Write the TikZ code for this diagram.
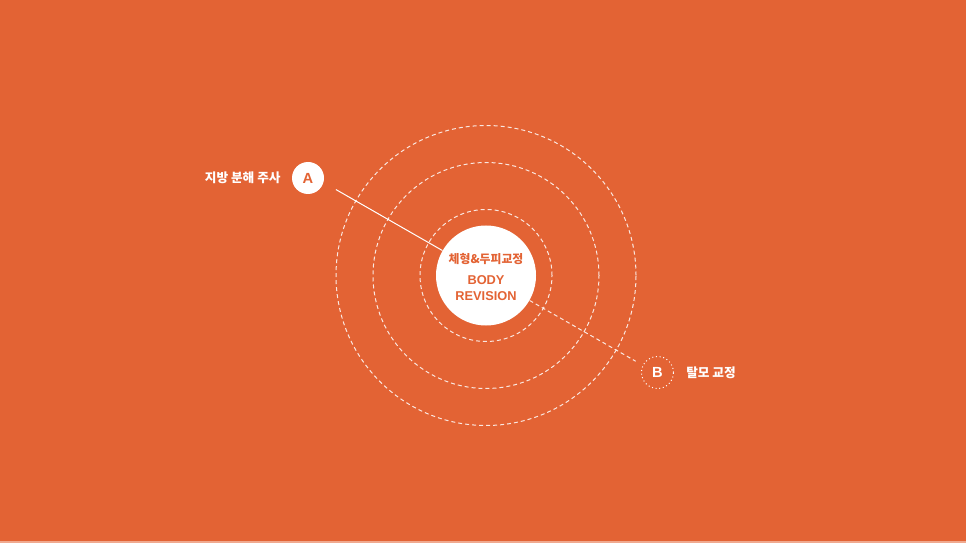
\documentclass[tikz,border=0pt]{standalone}
\usepackage{fontspec}
\setmainfont{Noto Sans CJK KR}
\setsansfont{Liberation Sans}
\usepackage{xcolor}
\usepackage{tikz}
\usetikzlibrary{
    positioning,
    calc
}
\definecolor{bgorange}{HTML}{E36334}

\begin{document}
\begin{tikzpicture}[x=0.75pt, y=0.75pt,
    font=\fontsize{9.5}{11}\selectfont,
    ring/.style={
        draw=white,
        dash pattern=on 3pt off 2.25pt,
        line width=0.75pt,
        draw opacity=0.85
    },
    core/.style={
        circle,
        fill=white,
        minimum size=75pt,
        inner sep=0pt
    },
    coretext/.style={
        text=bgorange,
        align=center,
        inner sep=0pt
    },
    badge/.style={
        circle,
        minimum size=24pt,
        inner sep=0pt,
        line width=0.75pt,
        font=\sffamily\bfseries\fontsize{11}{12}\selectfont
    },
    tag/.style={
        text=white,
        inner sep=0pt,
        font=\bfseries\fontsize{9.5}{11}\selectfont
    },
    link/.style={draw=white, line width=0.75pt},
    dashedlink/.style={draw=white, line width=0.75pt, dash pattern=on 3pt off 2.25pt, draw opacity=0.85}
]

% ===== Background =====
\fill[bgorange] (0,0) rectangle (966,543);
\fill[bgorange!55!white] (0,0) rectangle (966,2);

% ===== Core and rings =====
\node[core] (body) at (486,267.5) {};
\foreach \r in {66,113,150}
    \draw[ring] (body.center) circle[radius=\r];

\node[coretext, font=\bfseries\fontsize{8.9}{10}\selectfont] (bodykr) at ($(body.center)+(0,16.5)$) {체형\&두피교정};
\node[coretext, font=\sffamily\bfseries\fontsize{9.6}{12}\selectfont] (bodyen) at ($(body.center)+(0,-12.5)$) {BODY\\REVISION};

% ===== Badges =====
\node[badge, fill=white, text=bgorange] (a) at (308,365) {A};
\node[badge, draw=white, dotted, text=white] (b) at (657.5,170.5) {B};

\node[tag, left=8pt of a] (alabel) {지방 분해 주사};
\node[tag, right=9pt of b] (blabel) {탈모 교정};

% ===== Connectors =====
\coordinate (astart) at ($(body.center)+(150.2:173)$);
\coordinate (bend) at ($(body.center)+(-29.8:172.5)$);
\draw[link] (astart) -- (body);
\draw[dashedlink] (body) -- (bend);

\end{tikzpicture}
\end{document}
